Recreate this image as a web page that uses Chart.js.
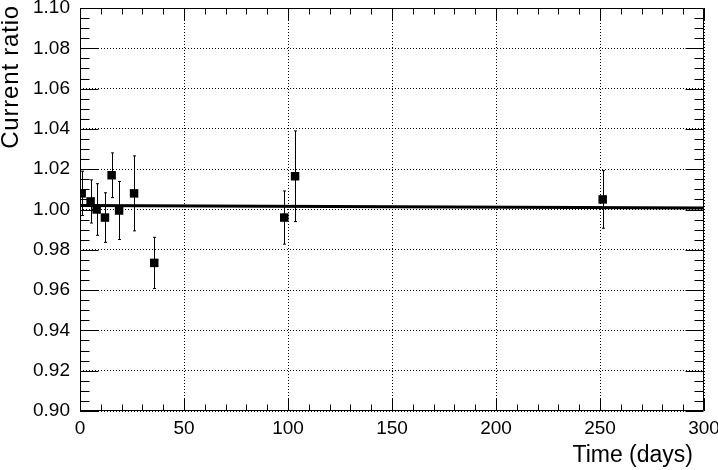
<!DOCTYPE html>
<html>
<head>
<meta charset="utf-8">
<script src="https://cdn.jsdelivr.net/npm/chart.js@4/dist/chart.umd.min.js"></script>
<style>
  html, body { margin: 0; padding: 0; background: #fff; }
  canvas { display: block; }
</style>
</head>
<body>
<canvas id="chart" width="718" height="470"></canvas>
<script>
var days = [0.8, 5.1, 8, 12, 15.2, 18.8, 26, 35.7, 98.2, 103.4, 251.3];
var ratio = [1.008, 1.004, 1.000, 0.996, 1.017, 0.9995, 1.008, 0.9735, 0.996, 1.0165, 1.005];
var ratioErr = [0.011, 0.0107, 0.0128, 0.0123, 0.0111, 0.0144, 0.0186, 0.0127, 0.0132, 0.0225, 0.0143];
// straight-line fit
var fitDays = [0, 300];
var fitRatio = [1.0020, 1.0008];

var xTicks = [0, 50, 100, 150, 200, 250, 300];
var yTicks = [0.90, 0.92, 0.94, 0.96, 0.98, 1.00, 1.02, 1.04, 1.06, 1.08, 1.10];
var xTitle = 'Time (days)';
var yTitle = 'Current ratio';

var FONT = "'Liberation Sans', Arial, Helvetica, sans-serif";

var points = days.map(function (d, i) { return { x: d, y: ratio[i] }; });
var fit = fitDays.map(function (d, i) { return { x: d, y: fitRatio[i] }; });

// vertical error bars, drawn under the markers
var errorBars = {
    id: 'errorBars',
    beforeDatasetsDraw: function (chart) {
        var ctx = chart.ctx;
        var xs = chart.scales.x, ys = chart.scales.y;
        ctx.save();
        ctx.strokeStyle = '#000';
        ctx.lineWidth = 1;
        days.forEach(function (d, i) {
            var px = Math.round(xs.getPixelForValue(d)) + 0.5;
            var top = ys.getPixelForValue(ratio[i] + ratioErr[i]);
            var bot = ys.getPixelForValue(ratio[i] - ratioErr[i]);
            ctx.beginPath();
            ctx.moveTo(px, top);
            ctx.lineTo(px, bot);
            ctx.moveTo(px - 1.5, top);
            ctx.lineTo(px + 1.5, top);
            ctx.moveTo(px - 1.5, bot);
            ctx.lineTo(px + 1.5, bot);
            ctx.stroke();
        });
        ctx.restore();
    }
};

// frame with inward ticks on all four sides, plus both axis titles
var frame = {
    id: 'frame',
    afterDraw: function (chart) {
        var ctx = chart.ctx;
        var a = chart.chartArea;
        var xs = chart.scales.x, ys = chart.scales.y;
        ctx.save();
        ctx.strokeStyle = '#000';
        ctx.lineWidth = 1;
        ctx.beginPath();
        var l = Math.round(a.left) + 0.5, r = Math.round(a.right) - 0.5;
        var t = Math.round(a.top) + 0.5, b = Math.round(a.bottom) - 0.5;
        ctx.rect(l, t, r - l, b - t);
        var v, p, len;
        for (v = 0; v <= 300; v += 10) {
            p = Math.round(xs.getPixelForValue(v)) + 0.5;
            len = (v % 50 === 0) ? 12 : 6;
            ctx.moveTo(p, b); ctx.lineTo(p, b - len);
            ctx.moveTo(p, t); ctx.lineTo(p, t + len);
        }
        for (var k = 0; k <= 40; k++) {
            v = 0.90 + k * 0.005;
            p = Math.round(ys.getPixelForValue(v)) + 0.5;
            len = (k % 4 === 0) ? 18 : 9;
            ctx.moveTo(l, p); ctx.lineTo(l + len, p);
            ctx.moveTo(r, p); ctx.lineTo(r - len, p);
        }
        ctx.stroke();

        ctx.fillStyle = '#000';
        ctx.textBaseline = 'alphabetic';
        ctx.textAlign = 'right';

        ctx.font = '23px ' + FONT;
        ctx.fillText(xTitle, a.right - 11, 462);

        ctx.font = '24px ' + FONT;
        ctx.letterSpacing = '0.8px';
        ctx.translate(18, 5);
        ctx.rotate(-Math.PI / 2);
        ctx.fillText(yTitle, 0, 0);
        ctx.letterSpacing = '0px';
        ctx.restore();
    }
};

var chart = new Chart(document.getElementById('chart'), {
    type: 'scatter',
    data: {
        datasets: [
            {
                label: 'ratio',
                data: points,
                pointStyle: 'rect',
                pointRadius: 6,
                pointBackgroundColor: '#000',
                pointBorderColor: '#000',
                pointBorderWidth: 0,
                showLine: false
            },
            {
                label: 'fit',
                type: 'line',
                data: fit,
                borderColor: '#000',
                borderWidth: 3,
                pointRadius: 0,
                fill: false,
                tension: 0
            }
        ]
    },
    options: {
        responsive: false,
        animation: false,
        layout: { padding: { top: 8, right: 14, left: 0, bottom: 0 } },
        plugins: {
            legend: { display: false },
            tooltip: { enabled: false }
        },
        scales: {
            x: {
                type: 'linear',
                min: 0,
                max: 300,
                afterBuildTicks: function (scale) {
                    scale.ticks = xTicks.map(function (v) { return { value: v }; });
                },
                afterFit: function (scale) {
                    scale.height = 59;
                    scale.paddingLeft = 0;
                    scale.paddingRight = 0;
                },
                ticks: {
                    color: '#000',
                    font: { family: FONT, size: 19 },
                    padding: 6,
                    maxRotation: 0,
                    callback: function (v) { return String(v); }
                },
                grid: { color: '#000', lineWidth: 1, drawTicks: false },
                border: { display: false, dash: [1, 2] },
                title: { display: false }
            },
            y: {
                type: 'linear',
                min: 0.90,
                max: 1.10,
                afterBuildTicks: function (scale) {
                    scale.ticks = yTicks.map(function (v) { return { value: v }; });
                },
                afterFit: function (scale) {
                    scale.width = 80;
                    scale.paddingTop = 0;
                    scale.paddingBottom = 0;
                },
                ticks: {
                    color: '#000',
                    font: { family: FONT, size: 19 },
                    padding: 10,
                    callback: function (v) { return Number(v).toFixed(2); }
                },
                grid: { color: '#000', lineWidth: 1, drawTicks: false },
                border: { display: false, dash: [1, 2] },
                title: { display: false }
            }
        }
    },
    plugins: [errorBars, frame]
});
</script>
</body>
</html>
